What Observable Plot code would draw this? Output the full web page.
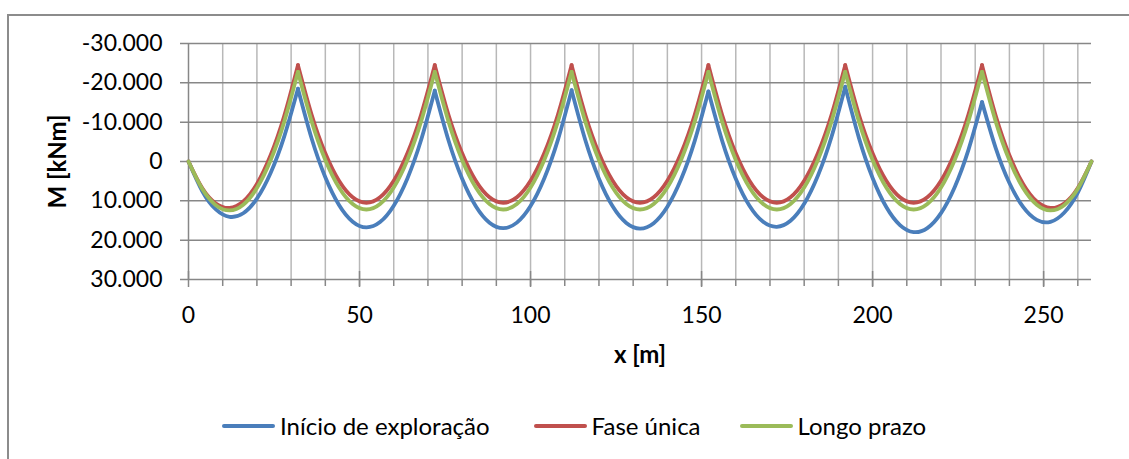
<!DOCTYPE html>
<html>
<head>
<meta charset="utf-8">
<script src="https://cdn.jsdelivr.net/npm/d3@7"></script>
<script src="https://cdn.jsdelivr.net/npm/@observablehq/plot@0.6"></script>
<style>
  html, body { margin: 0; padding: 0; background: #fff; }
  #wrap { position: relative; width: 1129px; height: 459px; overflow: hidden; background: #fff; font-family: Lato, "Open Sans", sans-serif; }
  #frame { position: absolute; left: 7px; top: 14px; width: 1130px; height: 460px; border-top: 2px solid #8c8c8c; border-left: 2px solid #8c8c8c; box-sizing: border-box; }
  #chart { position: absolute; left: 0; top: 0; }
  #legend { position: absolute; left: 222px; top: 411px; display: flex; align-items: center; font-size: 24px; color: #000; white-space: nowrap; }
  .item { display: flex; align-items: center; }
  .sw { width: 53px; height: 4px; border-radius: 2px; margin-right: 5px; }
</style>
</head>
<body>
<div id="wrap">
  <div id="frame"></div>
  <div id="chart"></div>
  <div id="legend"></div>
</div>
<script>
// ---- Data ----
const seriesNames = ["Início de exploração", "Fase única", "Longo prazo"];
const seriesColors = ["#4a7ebb", "#c0504d", "#9bbb59"];

// supports of the continuous beam [m]
const supports = [0, 32, 72, 112, 152, 192, 232, 264];

// abscissa of the sampled points [m]
const xs = [0,4,8,12,16,20,24,28,32,36,40,44,48,52,56,60,64,68,72,76,80,84,88,92,96,100,104,108,112,116,120,124,128,132,136,140,144,148,152,156,160,164,168,172,176,180,184,188,192,196,200,204,208,212,216,220,224,228,232,236,240,244,248,252,256,260,264];

// bending moment M [kNm] – Início de exploração
const inicioExploracao = [0,7490,12180,14060,13150,9440,2930,-6390,-18500,
  -5850,4000,11050,15300,16750,15400,11250,4300,-5450,-18000,
  -5410,4380,11370,15560,16950,15540,11330,4320,-5490,-18100,
  -5470,4360,11390,15620,17050,15680,11510,4540,-5230,-17800,
  -5320,4360,11240,15320,16600,15080,10760,3640,-6280,-19000,
  -6010,4180,11570,16160,17950,16940,13130,6520,-2890,-15100,
  -3410,5480,11560,14850,15340,13030,7910,0];

// bending moment M [kNm] – Fase única
const faseUnica = [0,6740,10680,11810,10150,5690,-1580,-11640,-24500,
  -11900,-2100,4900,9100,10500,9100,4900,-2100,-11900,-24500,
  -11900,-2100,4900,9100,10500,9100,4900,-2100,-11900,-24500,
  -11900,-2100,4900,9100,10500,9100,4900,-2100,-11900,-24500,
  -11900,-2100,4900,9100,10500,9100,4900,-2100,-11900,-24500,
  -11900,-2100,4900,9100,10500,9100,4900,-2100,-11900,-24500,
  -11640,-1580,5690,10150,11810,10680,6740,0];

// bending moment M [kNm] – Longo prazo
const longoPrazo = [0,6950,11100,12450,11000,6750,-300,-10150,-22800,
  -10200,-400,6600,10800,12200,10800,6600,-400,-10200,-22800,
  -10200,-400,6600,10800,12200,10800,6600,-400,-10200,-22800,
  -10200,-400,6600,10800,12200,10800,6600,-400,-10200,-22800,
  -10200,-400,6600,10800,12200,10800,6600,-400,-10200,-22800,
  -10200,-400,6600,10800,12200,10800,6600,-400,-10200,-22800,
  -10150,-300,6750,11000,12450,11100,6950,0];

// axes
const xTicks = [0, 50, 100, 150, 200, 250];
const xTickLabels = ["0", "50", "100", "150", "200", "250"];
const xGrid = [10,20,30,40,50,60,70,80,90,100,110,120,130,140,150,160,170,180,190,200,210,220,230,240,250,260];
const yTicks = [-30000, -20000, -10000, 0, 10000, 20000, 30000];
const yTickLabels = ["-30.000", "-20.000", "-10.000", "0", "10.000", "20.000", "30.000"];
const xTitle = "x [m]";
const yTitle = "M [kNm]";

// ---- build table: one row per point, split by span so the cusps over supports stay sharp ----
const allValues = [inicioExploracao, faseUnica, longoPrazo];
const rows = [];
allValues.forEach((vals, s) => {
  for (let k = 0; k < supports.length - 1; k++) {
    xs.forEach((x, i) => {
      if (x >= supports[k] && x <= supports[k + 1]) {
        rows.push({series: seriesNames[s], span: k, x, m: vals[i]});
      }
    });
  }
});

const xLabelMap = new Map(xTicks.map((d, i) => [d, xTickLabels[i]]));
const yLabelMap = new Map(yTicks.map((d, i) => [d, yTickLabels[i]]));

const gridColor = "#b8b8b8";
const axisColor = "#878787";

const lineMarks = seriesNames.map((name, s) =>
  Plot.line(rows.filter(r => r.series === name), {
    x: "x", y: "m", z: "span",
    stroke: seriesColors[s], strokeWidth: 3.8,
    curve: "natural", strokeLinecap: "round", strokeLinejoin: "round"
  })
);

const chart = Plot.plot({
  width: 1129,
  height: 380,
  marginLeft: 188,
  marginRight: 38,
  marginTop: 43,
  marginBottom: 101,
  style: {fontFamily: "Lato, 'Open Sans', sans-serif", fontSize: "23px", color: "#000", background: "transparent"},
  x: {domain: [0, 264], label: null},
  y: {domain: [-30000, 30000], reverse: true, label: null},
  marks: [
    Plot.ruleX(xGrid, {stroke: gridColor, strokeWidth: 1.5}),
    Plot.ruleY(yTicks, {stroke: axisColor, strokeWidth: 1.5, insetLeft: -8}),
    Plot.ruleX([0], {stroke: axisColor, strokeWidth: 1.5}),
    Plot.ruleX(xGrid, {y1: 30000, y2: 30000, insetBottom: -7, stroke: axisColor, strokeWidth: 1.5}),
    Plot.ruleX(xTicks, {y1: 30000, y2: 30000, insetTop: -8, insetBottom: -8, stroke: axisColor, strokeWidth: 1.5}),
    Plot.axisX(xTicks, {tickSize: 0, tickPadding: 27, tickFormat: d => xLabelMap.get(d), fontSize: 23, label: null}),
    Plot.axisY(yTicks, {tickSize: 0, tickPadding: 26, tickFormat: d => yLabelMap.get(d), fontSize: 23, label: null}),
    ...lineMarks,
    Plot.text([xTitle], {frameAnchor: "bottom", dy: 76, textAnchor: "middle", lineAnchor: "middle", fontWeight: "bold", fontSize: 24}),
    Plot.text([yTitle], {frameAnchor: "left", dx: -130, rotate: -90, textAnchor: "middle", lineAnchor: "middle", fontWeight: "bold", fontSize: 24})
  ]
});
document.getElementById("chart").appendChild(chart);

// ---- legend ----
const legend = document.getElementById("legend");
const gaps = [44, 39, 0];
seriesNames.forEach((name, s) => {
  const item = document.createElement("div");
  item.className = "item";
  item.style.marginRight = gaps[s] + "px";
  const sw = document.createElement("span");
  sw.className = "sw";
  sw.style.background = seriesColors[s];
  const label = document.createElement("span");
  label.textContent = name;
  item.appendChild(sw);
  item.appendChild(label);
  legend.appendChild(item);
});
</script>
</body>
</html>
